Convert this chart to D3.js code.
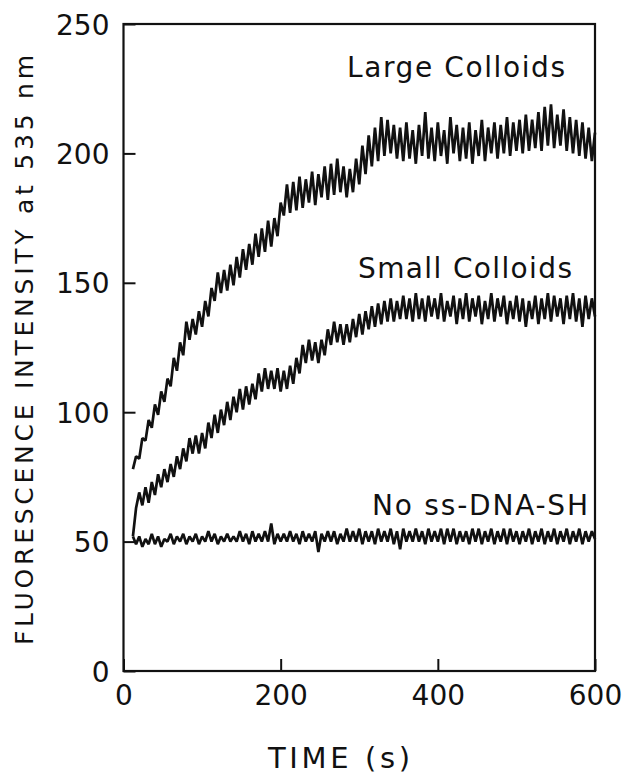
<!DOCTYPE html>
<html>
<head>
<meta charset="utf-8">
<script src="https://cdn.jsdelivr.net/npm/d3@7"></script>
<style>
  html, body { margin: 0; padding: 0; background: #fff; }
  svg { display: block; }
  text { font-family: "DejaVu Sans", sans-serif; fill: #111; }
</style>
</head>
<body>
<svg id="chart" width="623" height="775"></svg>
<script>
// ---- data ----
const times = [
  12,16,20,24,28,32,36,40,44,48,
  52,56,60,64,68,72,76,80,84,88,
  92,96,100,104,108,112,116,120,124,128,
  132,136,140,144,148,152,156,160,164,168,
  172,176,180,184,188,192,196,200,204,208,
  212,216,220,224,228,232,236,240,244,248,
  252,256,260,264,268,272,276,280,284,288,
  292,296,300,304,308,312,316,320,324,328,
  332,336,340,344,348,352,356,360,364,368,
  372,376,380,384,388,392,396,400,404,408,
  412,416,420,424,428,432,436,440,444,448,
  452,456,460,464,468,472,476,480,484,488,
  492,496,500,504,508,512,516,520,524,528,
  532,536,540,544,548,552,556,560,564,568,
  572,576,580,584,588,592,596,600
];
const largeColloids = [
  78,83,82,90,89,97,94,103,99,108,
  104,113,110,121,116,127,122,135,128,136,
  130,139,133,143,137,148,143,154,146,155,
  147,157,149,160,152,163,155,165,157,169,
  160,171,162,174,164,175,168,181,176,188,
  177,189,178,191,179,190,181,193,180,192,
  183,195,182,196,184,198,185,195,183,194,
  185,198,188,203,192,207,195,210,197,214,
  199,213,200,211,198,210,197,212,198,209,
  196,211,199,216,198,210,197,212,199,209,
  196,214,200,211,197,210,198,212,196,209,
  199,213,197,210,200,212,198,211,200,214,
  199,212,201,213,200,215,201,213,202,216,
  201,218,203,219,202,215,203,217,201,214,
  200,213,199,212,198,210,197,208
];
const smallColloids = [
  52,63,69,64,71,65,73,68,76,71,
  78,73,80,75,83,78,86,81,90,84,
  91,84,92,86,96,90,99,92,101,95,
  104,97,106,100,109,101,110,103,111,105,
  115,108,117,109,116,109,117,108,116,109,
  118,111,121,115,126,119,128,120,127,119,
  128,122,132,126,135,127,134,126,134,127,
  136,129,138,130,139,132,141,133,142,134,
  143,135,144,135,143,136,145,136,144,135,
  146,136,144,135,145,137,144,136,146,135,
  143,137,145,134,144,136,146,135,144,137,
  145,134,143,136,146,135,144,137,145,134,
  143,136,145,135,144,133,143,136,145,134,
  144,136,146,135,145,137,144,134,145,136,
  146,135,144,133,145,136,144,137
];
const noDNA = [
  52,49,52,48,51,49,53,49,52,48,
  51,50,53,49,52,50,53,49,52,50,
  53,49,52,50,54,50,53,49,52,50,
  53,50,52,50,54,50,53,49,54,50,
  53,50,54,50,57,49,53,50,53,50,
  54,50,53,49,54,50,53,50,54,46,
  53,50,54,50,54,49,53,50,55,50,
  54,50,55,49,54,50,54,49,55,50,
  54,50,55,49,54,47,55,50,54,50,
  55,50,54,49,55,50,54,50,55,49,
  55,50,55,49,54,50,54,49,55,50,
  55,49,54,50,55,49,54,50,55,49,
  55,50,54,49,54,50,55,49,54,50,
  55,49,54,50,55,49,54,50,55,49,
  54,50,55,49,54,50,54,51
];
const xTicks = [0, 200, 400, 600];
const yTicks = [0, 50, 100, 150, 200, 250];
const seriesLabels = ["Large Colloids", "Small Colloids", "No ss-DNA-SH"];
const xTitle = "TIME (s)";
const yTitle = "FLUORESCENCE INTENSITY at 535 nm";

// ---- layout ----
const svg = d3.select("#chart");
const L = 123.5, R = 595, T = 24, B = 671;
const x = d3.scaleLinear().domain([0, 600]).range([L, R]);
const y = d3.scaleLinear().domain([0, 250]).range([B, T]);

// traces
const line = d3.line().x((d, i) => x(times[i])).y(d => y(d));
[largeColloids, smallColloids, noDNA].forEach(s => {
  svg.append("path")
    .datum(s)
    .attr("d", line)
    .attr("fill", "none")
    .attr("stroke", "#111")
    .attr("stroke-width", 2.7)
    .attr("stroke-linejoin", "bevel");
});

// axes
const yAxis = d3.axisLeft(y).tickValues(yTicks).tickSize(-12).tickPadding(14).tickFormat(d3.format("d"));
const gy = svg.append("g").attr("transform", `translate(${L},0)`).call(yAxis);
const xAxis = d3.axisBottom(x).tickValues(xTicks).tickSize(-12).tickPadding(14).tickFormat(d3.format("d"));
const gx = svg.append("g").attr("transform", `translate(0,${B})`).call(xAxis);
[gx, gy].forEach(g => {
  g.select(".domain").remove();
  g.selectAll(".tick line").attr("stroke", "#111").attr("stroke-width", 2);
  g.selectAll(".tick text").attr("font-size", 28).attr("font-family", "DejaVu Sans").attr("fill", "#111");
});
gy.selectAll(".tick text").attr("dy", "0.36em");
gx.selectAll(".tick text").attr("dy", "0.72em");

// frame
svg.append("rect")
  .attr("x", L).attr("y", T).attr("width", R - L).attr("height", B - T)
  .attr("fill", "none").attr("stroke", "#111").attr("stroke-width", 2.2);

// series labels
const labelPos = [
  { x: 347, y: 77, w: 218 },
  { x: 358, y: 278, w: 214 },
  { x: 372, y: 515, w: 216 }
];
seriesLabels.forEach((t, i) => {
  svg.append("text")
    .attr("x", labelPos[i].x).attr("y", labelPos[i].y)
    .attr("font-size", 28)
    .attr("textLength", labelPos[i].w)
    .attr("lengthAdjust", "spacing")
    .text(t);
});

// axis titles
svg.append("text")
  .attr("x", 268).attr("y", 768)
  .attr("font-size", 29)
  .attr("textLength", 142)
  .attr("lengthAdjust", "spacing")
  .text(xTitle);

svg.append("text")
  .attr("transform", "translate(33,645) rotate(-90)")
  .attr("x", 0).attr("y", 0)
  .attr("font-size", 25)
  .attr("textLength", 590)
  .attr("lengthAdjust", "spacing")
  .text(yTitle);
</script>
</body>
</html>
